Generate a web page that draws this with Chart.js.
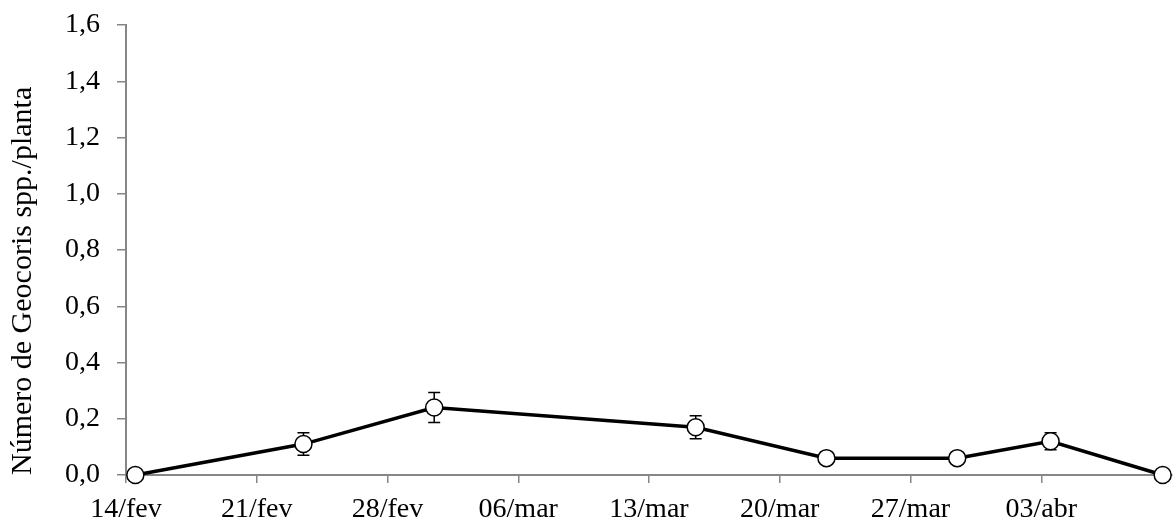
<!DOCTYPE html>
<html>
<head>
<meta charset="utf-8">
<script src="https://cdn.jsdelivr.net/npm/chart.js@4/dist/chart.umd.min.js"></script>
<style>
  html, body { margin: 0; padding: 0; background: #fff; }
  #wrap { width: 1175px; height: 526px; }
</style>
</head>
<body>
<div id="wrap"><canvas id="geoChart"></canvas></div>
<script>
// sampling dates (2012, leap year) and mean number per plant
const startDate = '2012-02-14';
const endDate = '2012-04-10';
const sampleDates = ['2012-02-14', '2012-02-23', '2012-03-01', '2012-03-15', '2012-03-22', '2012-03-29', '2012-04-03', '2012-04-09'];
const meanValues = [0, 0.11, 0.24, 0.17, 0.06, 0.06, 0.12, 0];
const errValues = [0, 0.04, 0.053, 0.041, 0, 0, 0.03, 0];
const monthNames = ['jan', 'fev', 'mar', 'abr', 'mai', 'jun', 'jul', 'ago', 'set', 'out', 'nov', 'dez'];

const DAY = 86400000;
function dayIndex(s) {
  return Math.round((Date.parse(s) - Date.parse(startDate)) / DAY);
}
function dateLabel(d) {
  const dt = new Date(Date.parse(startDate) + d * DAY);
  const dd = String(dt.getUTCDate()).padStart(2, '0');
  return dd + '/' + monthNames[dt.getUTCMonth()];
}
const lastDay = dayIndex(endDate);

// like a date axis: each point sits in the middle of its day
const points = sampleDates.map((d, i) => ({ x: dayIndex(d) + 0.5, y: meanValues[i] }));

const errorBars = {
  id: 'errorBars',
  beforeDatasetsDraw(chart) {
    const { ctx, scales: { x, y } } = chart;
    ctx.save();
    ctx.strokeStyle = '#000';
    ctx.lineWidth = 1.5;
    points.forEach((p, i) => {
      const e = errValues[i];
      if (!e) return;
      const px = x.getPixelForValue(p.x);
      const top = y.getPixelForValue(p.y + e);
      const bot = y.getPixelForValue(p.y - e);
      ctx.beginPath();
      ctx.moveTo(px, top); ctx.lineTo(px, bot);
      ctx.moveTo(px - 6, top); ctx.lineTo(px + 6, top);
      ctx.moveTo(px - 6, bot); ctx.lineTo(px + 6, bot);
      ctx.stroke();
    });
    ctx.restore();
  }
};

const axisGray = '#868686';
const family = '"Liberation Serif", "Times New Roman", serif';
const tickFont = { family, size: 28 };

new Chart(document.getElementById('geoChart'), {
  type: 'line',
  data: {
    datasets: [{
      data: points,
      borderColor: '#000',
      borderWidth: 3.5,
      pointRadius: 8.5,
      pointBackgroundColor: '#fff',
      pointBorderColor: '#000',
      pointBorderWidth: 1.5,
      tension: 0,
      clip: false
    }]
  },
  options: {
    responsive: true,
    maintainAspectRatio: false,
    animation: false,
    layout: { autoPadding: false, padding: { top: 25, right: 3, left: 0, bottom: 0 } },
    plugins: { legend: { display: false }, tooltip: { enabled: false } },
    scales: {
      x: {
        type: 'linear',
        min: 0,
        max: lastDay,
        afterBuildTicks: s => { s.ticks = s.ticks.filter(t => t.value < lastDay); },
        afterFit: s => { s.height = 51; s.paddingLeft = 0; s.paddingRight = 0; },
        ticks: { stepSize: 7, color: '#000', font: tickFont, padding: 10, maxRotation: 0, autoSkip: false, callback: v => dateLabel(v) },
        grid: { drawOnChartArea: false, drawTicks: true, tickLength: 8, color: axisGray, lineWidth: 1.5 },
        border: { color: axisGray, width: 2 }
      },
      y: {
        min: 0,
        max: 1.6,
        afterFit: s => { s.width = 126; s.paddingTop = 0; s.paddingBottom = 0; },
        ticks: { stepSize: 0.2, color: '#000', font: tickFont, padding: 17, callback: v => v.toFixed(1).replace('.', ',') },
        grid: { drawOnChartArea: false, drawTicks: true, tickLength: 9, color: axisGray, lineWidth: 1.5 },
        border: { color: axisGray, width: 2 },
        title: { display: true, text: 'Número de Geocoris spp./planta', align: 'start', color: '#000', font: { family, size: 30 }, padding: { top: 5, bottom: 0 } }
      }
    }
  },
  plugins: [errorBars]
});
</script>
</body>
</html>
